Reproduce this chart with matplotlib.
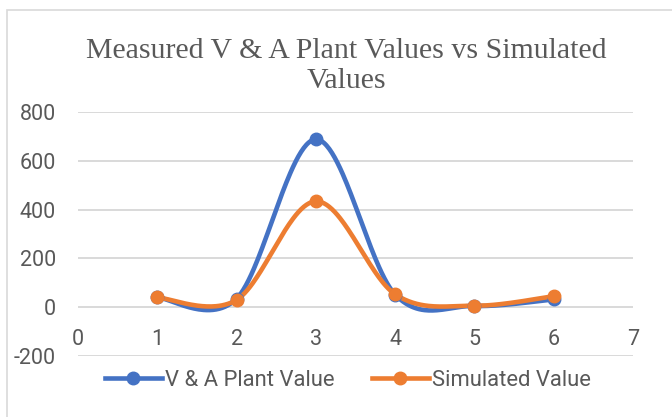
import numpy as np
import matplotlib
matplotlib.use("Agg")
import matplotlib.pyplot as plt
from matplotlib.patches import Rectangle
from matplotlib.lines import Line2D

# ---- data ----
x_vals = [1, 2, 3, 4, 5, 6]
va_plant = [40, 35, 688, 52, 5, 32]
simulated = [40, 30, 434, 53, 6, 45]
series_names = ["V & A Plant Value", "Simulated Value"]
title = "Measured V & A Plant Values vs Simulated\nValues"
x_ticks = [0, 1, 2, 3, 4, 5, 6, 7]
y_ticks = [-200, 0, 200, 400, 600, 800]

BLUE = "#4472C4"
ORANGE = "#ED7D31"
GRAY = "#595959"
GRID = "#D9D9D9"


def smooth(xs, ys, n=60):
    """Excel-like smoothed line: Catmull-Rom cubic Bezier segments."""
    P = np.column_stack([xs, ys]).astype(float)
    m = len(P)
    out = []
    t = np.linspace(0, 1, n)[:, None]
    for i in range(m - 1):
        p0 = P[i - 1] if i > 0 else P[i]
        p1 = P[i]
        p2 = P[i + 1]
        p3 = P[i + 2] if i + 2 < m else P[i + 1]
        c1 = p1 + (p2 - p0) / 6.0
        c2 = p2 - (p3 - p1) / 6.0
        seg = ((1 - t) ** 3) * p1 + 3 * ((1 - t) ** 2) * t * c1 + 3 * (1 - t) * t ** 2 * c2 + t ** 3 * p2
        out.append(seg if i == 0 else seg[1:])
    s = np.vstack(out)
    return s[:, 0], s[:, 1]


W, H = 672, 417
fig = plt.figure(figsize=(W / 100, H / 100), dpi=100)

# chart border
fig.patches.append(Rectangle((7 / W, -0.1), 1.2, 1 - 10 / H + 0.1, transform=fig.transFigure,
                             fill=False, edgecolor=GRID, linewidth=1.2))

ax_l, ax_r, ax_t, ax_b = 78, 633, 112, 356
ax = fig.add_axes([ax_l / W, 1 - ax_b / H, (ax_r - ax_l) / W, (ax_b - ax_t) / H])
ax.set_xlim(0, 7)
ax.set_ylim(-200, 800)

for y in y_ticks:
    ax.axhline(y, color=GRID, linewidth=1.4, zorder=0)

for ys, col, name in [(va_plant, BLUE, series_names[0]), (simulated, ORANGE, series_names[1])]:
    sx, sy = smooth(x_vals, ys)
    ax.plot(sx, sy, color=col, linewidth=3.3, solid_capstyle="round", zorder=2)
    ax.plot(x_vals, ys, linestyle="none", marker="o", markersize=9, color=col, zorder=3)

for s in ["left", "right", "top"]:
    ax.spines[s].set_visible(False)
ax.spines["bottom"].set_position(("data", 0))
ax.spines["bottom"].set_visible(False)

font = ["Roboto", "DejaVu Sans"]
ax.set_xticks(x_ticks)
ax.set_xticklabels([str(v) for v in x_ticks], family=font, fontsize=15.5, color=GRAY)
ax.set_yticks(y_ticks)
ax.set_yticklabels([str(v) for v in y_ticks], family=font, fontsize=15.5, color=GRAY)
ax.tick_params(axis="x", length=0, pad=15.5)
ax.tick_params(axis="y", length=0, pad=16)

fig.text(346 / W, 1 - 66 / H, title, ha="center", va="center", family=["Liberation Serif"],
         fontsize=21.5, color=GRAY, linespacing=1.2)

handles = [Line2D([], [], color=BLUE, linewidth=3.3, marker="o", markersize=9),
           Line2D([], [], color=ORANGE, linewidth=3.3, marker="o", markersize=9)]
leg = fig.legend(handles, series_names, loc="center", bbox_to_anchor=(348 / W, 1 - 380 / H),
                 ncol=2, frameon=False, prop={"family": font, "size": 15.8},
                 handlelength=2.6, handletextpad=0.15, columnspacing=1.7)
for t in leg.get_texts():
    t.set_color(GRAY)

fig.savefig("out.png", dpi=100)
